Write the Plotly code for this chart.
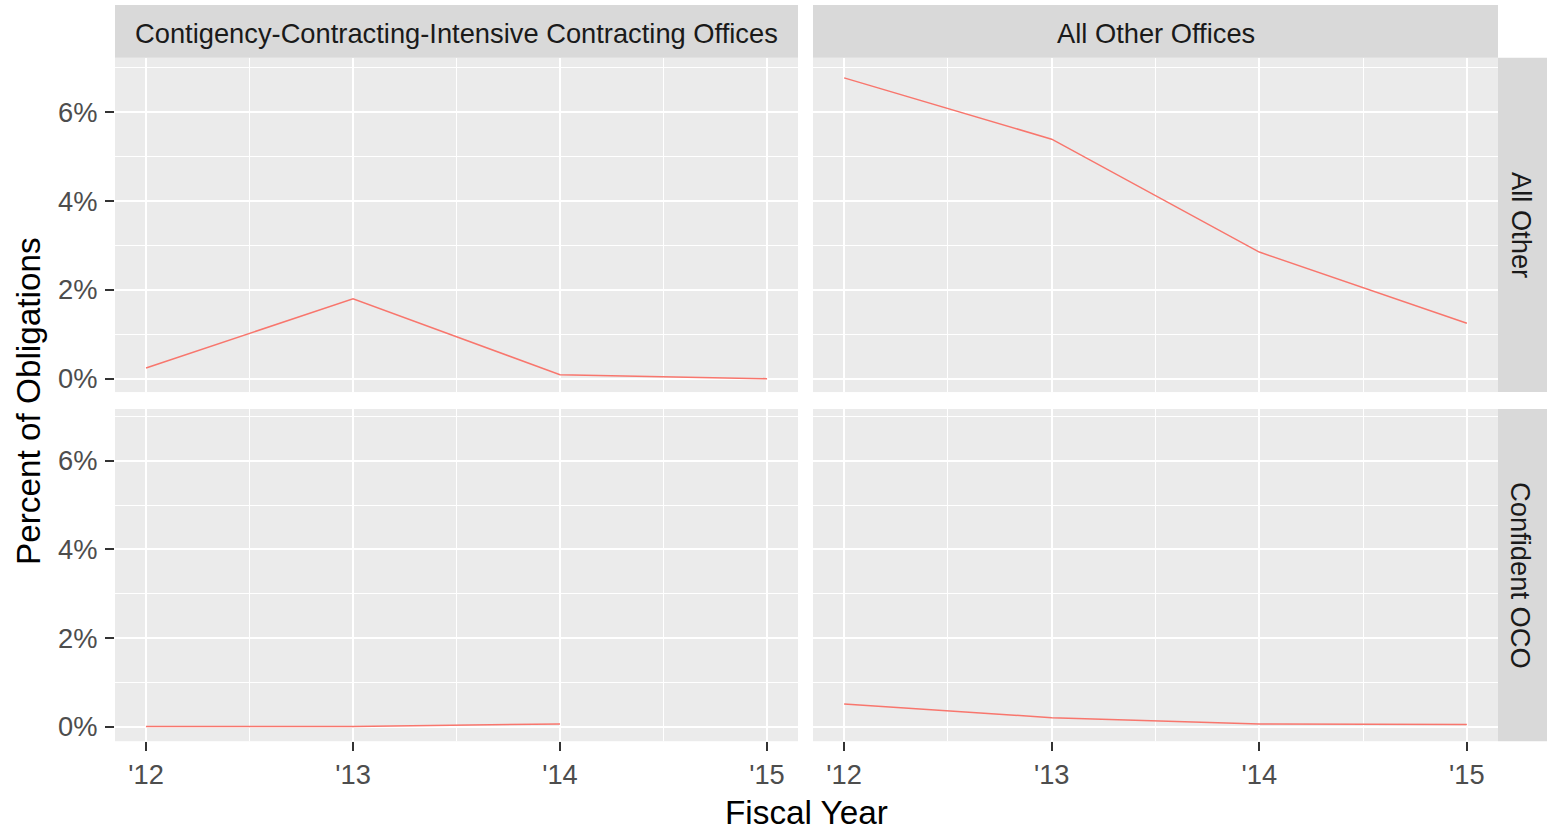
import plotly.graph_objects as go

# Fiscal years and their short labels
years = [2012, 2013, 2014, 2015]
year_labels = ["'12", "'13", "'14", "'15"]

# Percent of obligations by office group (columns) and OCO status (rows)
cc_all_other = [0.24, 1.80, 0.09, 0.00]
ao_all_other = [6.77, 5.39, 2.85, 1.25]
cc_confident = [0.00, 0.00, 0.06, None]
ao_confident = [0.51, 0.20, 0.06, 0.045]

col_titles = ["Contigency-Contracting-Intensive Contracting Offices", "All Other Offices"]
row_titles = ["All Other", "Confident OCO"]
y_ticks = [0, 2, 4, 6]
y_tick_labels = ["0%", "2%", "4%", "6%"]

W, H = 1547, 832
FONT = "Liberation Sans, Arial, sans-serif"
LINE = "#F8766D"
TXT = 27.3
TITLE = 33.3

# panel geometry in pixels
col_x = [(115, 798), (813, 1498)]
row_y = [(58, 393), (410, 743)]  # top, bottom (pixels from top)
row_range = [[-0.30, 7.22], [-0.33, 7.17]]


def px_x(v):
    return v / W


def px_y(v):
    return 1 - v / H


fig = go.Figure()

series = [
    (cc_all_other, 0, 0),
    (ao_all_other, 0, 1),
    (cc_confident, 1, 0),
    (ao_confident, 1, 1),
]

for i, (vals, r, c) in enumerate(series):
    idx = "" if i == 0 else str(i + 1)
    fig.add_trace(go.Scatter(
        x=years, y=vals, mode="lines",
        line=dict(color=LINE, width=1.5),
        xaxis="x" + idx, yaxis="y" + idx,
        showlegend=False, hoverinfo="skip",
    ))

    x0, x1 = col_x[c]
    y0, y1 = row_y[r]
    bottom = r == 1
    left = c == 0
    fig.update_layout(**{
        "xaxis" + idx: dict(
            domain=[px_x(x0), px_x(x1)], anchor="y" + idx,
            range=[2011.85, 2015.15],
            tickmode="array", tickvals=years, ticktext=year_labels,
            showticklabels=bottom,
            ticks="outside" if bottom else "", ticklen=9, tickwidth=2, tickcolor="#333333",
            tickfont=dict(family=FONT, size=TXT, color="#4D4D4D"),
            showgrid=True, gridcolor="white", gridwidth=2,
            minor=dict(tick0=2012, dtick=0.5, showgrid=True, gridcolor="white", gridwidth=1),
            zeroline=False, showline=False, fixedrange=True,
        ),
        "yaxis" + idx: dict(
            domain=[px_y(y1), px_y(y0)], anchor="x" + idx,
            range=row_range[r],
            tickmode="array", tickvals=y_ticks, ticktext=y_tick_labels,
            showticklabels=left,
            ticks="outside" if left else "", ticklen=9, tickwidth=2, tickcolor="#333333",
            ticklabelstandoff=2,
            tickfont=dict(family=FONT, size=TXT, color="#4D4D4D"),
            showgrid=True, gridcolor="white", gridwidth=2,
            minor=dict(tick0=0, dtick=1, showgrid=True, gridcolor="white", gridwidth=1),
            zeroline=False, showline=False, fixedrange=True,
        ),
    })

shapes = []
annotations = []
STRIP = "#D9D9D9"

# column strips along the top
for c, title in enumerate(col_titles):
    x0, x1 = col_x[c]
    shapes.append(dict(type="rect", xref="paper", yref="paper",
                       x0=px_x(x0), x1=px_x(x1), y0=px_y(58), y1=px_y(5),
                       fillcolor=STRIP, line=dict(width=0), layer="below"))
    annotations.append(dict(text=title, xref="paper", yref="paper",
                            x=px_x((x0 + x1) / 2), y=px_y(34), showarrow=False,
                            xanchor="center", yanchor="middle",
                            font=dict(family=FONT, size=TXT, color="#1A1A1A")))

# row strips down the right side
for r, title in enumerate(row_titles):
    y0, y1 = row_y[r]
    shapes.append(dict(type="rect", xref="paper", yref="paper",
                       x0=px_x(1498), x1=1.0, y0=px_y(y1), y1=px_y(y0),
                       fillcolor=STRIP, line=dict(width=0), layer="below"))
    annotations.append(dict(text=title, xref="paper", yref="paper",
                            x=px_x(1521), y=px_y((y0 + y1) / 2), showarrow=False,
                            textangle=90, xanchor="center", yanchor="middle",
                            font=dict(family=FONT, size=TXT, color="#1A1A1A")))

# axis titles
annotations.append(dict(text="Fiscal Year", xref="paper", yref="paper",
                        x=px_x(806), y=px_y(814), showarrow=False,
                        xanchor="center", yanchor="middle",
                        font=dict(family=FONT, size=TITLE, color="black")))
annotations.append(dict(text="Percent of Obligations", xref="paper", yref="paper",
                        x=px_x(28), y=px_y(402), showarrow=False, textangle=-90,
                        xanchor="center", yanchor="middle",
                        font=dict(family=FONT, size=TITLE, color="black")))

fig.update_layout(
    width=W, height=H,
    margin=dict(l=0, r=0, t=0, b=0),
    paper_bgcolor="white", plot_bgcolor="#EBEBEB",
    shapes=shapes, annotations=annotations,
    showlegend=False,
)

fig.write_html("out.html", config={"displayModeBar": False})
